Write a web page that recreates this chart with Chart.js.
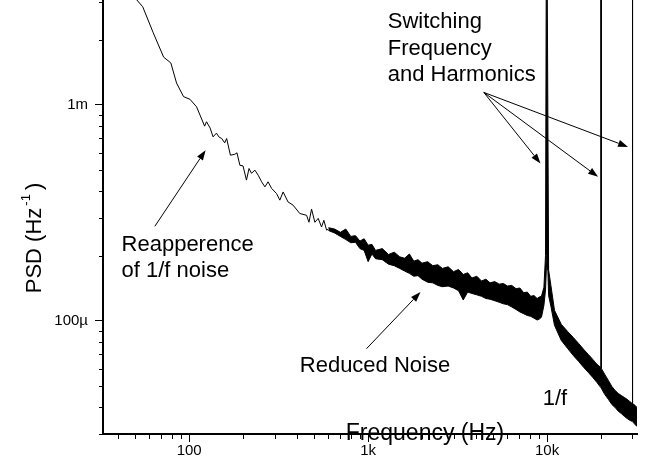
<!DOCTYPE html>
<html>
<head>
<meta charset="utf-8">
<script src="https://cdn.jsdelivr.net/npm/chart.js@4.4.1/dist/chart.umd.min.js"></script>
<style>
  html, body { margin: 0; padding: 0; background: #fff; }
  #wrap { width: 655px; height: 468px; position: relative; }
</style>
</head>
<body>
<div id="wrap"><canvas id="psdChart"></canvas></div>
<script>
// low frequency part of the spectrum (Hz, Hz^-1)
const freqLow = [49, 51, 55, 63, 72, 79, 85, 93, 101, 110, 122, 125, 131, 136, 142, 147, 152, 158, 162, 170,
  180, 185, 192, 200, 209, 216, 223, 233, 243, 254, 265, 276, 289, 308, 321, 335, 357, 381, 415, 453,
  467, 483, 504, 526, 549, 566, 586, 600]
const psdLow = [3.32e-3, 3.05e-3, 2.84e-3, 2.15e-3, 1.66e-3, 1.56e-3, 1.26e-3, 1.09e-3, 1.06e-3, 9.78e-4,
  7.96e-4, 8.34e-4, 7.80e-4, 7.10e-4, 7.39e-4, 7.08e-4, 6.98e-4, 6.66e-4, 6.98e-4, 5.84e-4,
  5.90e-4, 5.99e-4, 5.25e-4, 5.21e-4, 4.48e-4, 5.07e-4, 4.82e-4, 4.98e-4, 4.72e-4, 4.40e-4,
  4.17e-4, 4.40e-4, 4.10e-4, 3.88e-4, 3.62e-4, 3.95e-4, 3.55e-4, 3.43e-4, 3.14e-4, 3.08e-4,
  2.86e-4, 3.29e-4, 2.86e-4, 2.98e-4, 2.72e-4, 2.92e-4, 2.63e-4, 2.66e-4]

// noisy band above ~600 Hz: upper and lower envelope, with the switching peaks
const bandFreq = [600, 650, 700, 750, 800, 850, 900, 950, 1000, 1050, 1100, 1200, 1300, 1400, 1500,
  1600, 1700, 1800, 1900, 2000, 2150, 2300, 2450, 2600, 2800, 3000, 3200, 3400, 3600, 3800,
  4050, 4300, 4550, 4800, 5100, 5400, 5700, 6000, 6350, 6700, 7050, 7400, 7750, 8100, 8450,
  8800, 9050, 9300, 9600, 9800, 9900, 10000, 10100, 10200,
  10500, 11000, 12000, 13000, 14000, 15000, 16000, 17000, 18000, 19000, 19900, 19980, 20020, 20100, 21000,
  22000, 23000, 24000, 25000, 26000, 27000, 28000, 29000, 29900, 29980, 30020, 30100, 31000, 31800]
const bandUpper = [2.70e-4, 2.66e-4, 2.57e-4, 2.66e-4, 2.46e-4, 2.48e-4, 2.34e-4, 2.40e-4, 2.24e-4, 2.26e-4,
  2.12e-4, 2.16e-4, 2.03e-4, 2.08e-4, 1.98e-4, 1.95e-4, 2.04e-4, 1.89e-4, 1.92e-4, 1.85e-4,
  1.88e-4, 1.80e-4, 1.82e-4, 1.75e-4, 1.78e-4, 1.69e-4, 1.73e-4, 1.64e-4, 1.67e-4, 1.58e-4,
  1.61e-4, 1.53e-4, 1.56e-4, 1.50e-4, 1.52e-4, 1.48e-4, 1.49e-4, 1.45e-4, 1.46e-4, 1.41e-4,
  1.42e-4, 1.35e-4, 1.36e-4, 1.30e-4, 1.31e-4, 1.27e-4, 1.29e-4, 1.30e-4, 1.43e-4, 2.01e-4,
  5e-3, 5e-3, 5e-3, 1.72e-4,
  1.46e-4, 1.12e-4, 9.65e-5, 8.95e-5, 8.39e-5, 7.87e-5, 7.39e-5, 7.00e-5, 6.64e-5, 6.30e-5,
  6.10e-5, 5e-3, 5e-3, 6.03e-5, 5.66e-5, 5.31e-5, 4.98e-5, 4.77e-5, 4.62e-5, 4.52e-5,
  4.43e-5, 4.34e-5, 4.24e-5, 4.15e-5, 5e-3, 5e-3, 4.15e-5, 4.07e-5, 3.98e-5]
const bandLower = [2.62e-4, 2.55e-4, 2.46e-4, 2.38e-4, 2.30e-4, 2.31e-4, 2.16e-4, 2.12e-4, 1.88e-4, 2.04e-4,
  1.94e-4, 1.92e-4, 1.83e-4, 1.80e-4, 1.75e-4, 1.70e-4, 1.66e-4, 1.61e-4, 1.62e-4, 1.56e-4,
  1.51e-4, 1.50e-4, 1.46e-4, 1.44e-4, 1.45e-4, 1.42e-4, 1.38e-4, 1.25e-4, 1.36e-4, 1.34e-4,
  1.32e-4, 1.30e-4, 1.27e-4, 1.26e-4, 1.24e-4, 1.22e-4, 1.20e-4, 1.19e-4, 1.16e-4, 1.13e-4,
  1.10e-4, 1.08e-4, 1.06e-4, 1.05e-4, 1.03e-4, 1.01e-4, 1.02e-4, 1.04e-4, 1.18e-4, 1.39e-4,
  1.72e-4, 2.12e-4, 1.72e-4, 1.31e-4,
  1.17e-4, 9.54e-5, 8.13e-5, 7.47e-5, 6.93e-5, 6.50e-5, 6.10e-5, 5.78e-5, 5.48e-5, 5.19e-5,
  4.93e-5, 4.93e-5, 4.90e-5, 4.88e-5, 4.57e-5, 4.34e-5, 4.11e-5, 3.98e-5, 3.82e-5, 3.73e-5,
  3.62e-5, 3.54e-5, 3.47e-5, 3.43e-5, 3.43e-5, 3.43e-5, 3.43e-5, 3.32e-5, 3.25e-5]

const xTicks = [100, 1000, 10000]
const xTickLabels = ['100', '1k', '10k']
const yTicks = [1e-4, 1e-3]
const yTickLabels = ['100\u00b5', '1m']

// annotation texts, anchored in data units (Hz, Hz^-1)
const notes = [
  { lines: ['Switching', 'Frequency', 'and Harmonics'], f: 1288, p: 2.26e-3 },
  { lines: ['Reapperence', 'of 1/f noise'], f: 41.9, p: 2.11e-4 },
  { lines: ['Reduced Noise'], f: 415, p: 5.8e-5 },
  { lines: ['1/f'], f: 9460, p: 4.07e-5 }
]
// arrows: from [f, p] to [f, p]
const arrows = [
  [[64.3, 2.74e-4], [123.5, 6.16e-4]],
  [[979, 7.44e-5], [1962, 1.36e-4]],
  [[4430, 1.14e-3], [9186, 5.35e-4]],
  [[4430, 1.14e-3], [19270, 4.64e-4]],
  [[4430, 1.14e-3], [28350, 6.38e-4]]
]

const FONT = "Arial, 'Liberation Sans', sans-serif"

const toXY = (xs, ys) => xs.map((x, i) => ({ x: x, y: ys[i] }))

const minorTicks = (min, max) => {
  const out = []
  for (let d = Math.pow(10, Math.floor(Math.log10(min))); d < max; d *= 10) {
    for (let k = 2; k <= 9; k++) {
      const v = k * d
      if (v >= min && v <= max) out.push(v)
    }
  }
  return out
}

const decorPlugin = {
  id: 'decor',
  afterDatasetsDraw(chart) {
    const ctx = chart.ctx
    const xs = chart.scales.x
    const ys = chart.scales.y
    const area = chart.chartArea
    ctx.save()
    ctx.fillStyle = '#000'
    ctx.strokeStyle = '#000'

    // minor ticks, outside
    ctx.lineWidth = 1
    ctx.beginPath()
    minorTicks(xs.min, xs.max).forEach(v => {
      const px = Math.round(xs.getPixelForValue(v)) + 0.5
      ctx.moveTo(px, area.bottom)
      ctx.lineTo(px, area.bottom + 5)
    })
    minorTicks(ys.min, ys.max).forEach(v => {
      const py = Math.round(ys.getPixelForValue(v)) + 0.5
      ctx.moveTo(area.left, py)
      ctx.lineTo(area.left - 4, py)
    })
    ctx.stroke()

    // notes
    ctx.font = '22px ' + FONT
    ctx.textBaseline = 'alphabetic'
    ctx.textAlign = 'left'
    notes.forEach(n => {
      const x0 = xs.getPixelForValue(n.f)
      const y0 = ys.getPixelForValue(n.p)
      n.lines.forEach((t, i) => ctx.fillText(t, x0, y0 + i * 26.5))
    })

    // arrows
    arrows.forEach(a => {
      const x1 = xs.getPixelForValue(a[0][0]), y1 = ys.getPixelForValue(a[0][1])
      const x2 = xs.getPixelForValue(a[1][0]), y2 = ys.getPixelForValue(a[1][1])
      const ang = Math.atan2(y2 - y1, x2 - x1)
      const len = 10, hw = 3.5
      ctx.beginPath()
      ctx.moveTo(x1, y1)
      ctx.lineTo(x2 - Math.cos(ang) * len, y2 - Math.sin(ang) * len)
      ctx.stroke()
      ctx.beginPath()
      ctx.moveTo(x2, y2)
      ctx.lineTo(x2 - Math.cos(ang) * len - Math.sin(ang) * hw, y2 - Math.sin(ang) * len + Math.cos(ang) * hw)
      ctx.lineTo(x2 - Math.cos(ang) * len + Math.sin(ang) * hw, y2 - Math.sin(ang) * len - Math.cos(ang) * hw)
      ctx.closePath()
      ctx.fill()
    })

    // axis titles
    ctx.font = '23px ' + FONT
    ctx.textAlign = 'center'
    ctx.textBaseline = 'alphabetic'
    ctx.fillText('Frequency (Hz)', 425, 440)

    ctx.translate(41, 238)
    ctx.rotate(-Math.PI / 2)
    ctx.textAlign = 'left'
    const main = 'PSD (Hz'
    ctx.font = '22px ' + FONT
    const w1 = ctx.measureText(main).width
    ctx.font = '13px ' + FONT
    const w2 = ctx.measureText('-1').width
    ctx.font = '22px ' + FONT
    const w3 = ctx.measureText(')').width
    const start = -(w1 + w2 + w3 + 6) / 2
    ctx.fillText(main, start, 0)
    ctx.font = '13px ' + FONT
    ctx.fillText('-1', start + w1 + 2, -11)
    ctx.font = '22px ' + FONT
    ctx.fillText(')', start + w1 + w2 + 6, 0)
    ctx.restore()
  }
}

const lineStyle = {
  borderColor: '#000',
  borderWidth: 1,
  pointRadius: 0,
  tension: 0
}

const noPad = s => {
  s.paddingTop = 0
  s.paddingBottom = 0
  s.paddingLeft = 0
  s.paddingRight = 0
}

new Chart(document.getElementById('psdChart'), {
  type: 'line',
  data: {
    datasets: [
      Object.assign({ label: 'PSD', data: toXY(freqLow, psdLow), fill: false }, lineStyle),
      Object.assign({ label: 'band upper', data: toXY(bandFreq, bandUpper), fill: '+1', backgroundColor: '#000' }, lineStyle),
      Object.assign({ label: 'band lower', data: toXY(bandFreq, bandLower), fill: false }, lineStyle)
    ]
  },
  options: {
    responsive: true,
    maintainAspectRatio: false,
    animation: false,
    layout: { padding: { left: 0, right: 18, top: 0, bottom: 0 } },
    plugins: { legend: { display: false }, tooltip: { enabled: false } },
    scales: {
      x: {
        type: 'logarithmic',
        min: 33,
        max: 31800,
        afterBuildTicks: s => { s.ticks = xTicks.map(v => ({ value: v })) },
        afterFit: s => { s.height = 34; noPad(s) },
        ticks: {
          callback: (v, i) => xTickLabels[i],
          font: { family: FONT, size: 15 },
          color: '#000',
          padding: 0,
          maxRotation: 0,
          autoSkip: false
        },
        grid: { drawOnChartArea: false, drawTicks: true, tickLength: 8, tickColor: '#000', color: '#000' },
        border: { display: true, color: '#000', width: 2 }
      },
      y: {
        type: 'logarithmic',
        min: 3.0e-5,
        max: 3.05e-3,
        afterBuildTicks: s => { s.ticks = yTicks.map(v => ({ value: v })) },
        afterFit: s => { s.width = 103; noPad(s) },
        ticks: {
          callback: (v, i) => yTickLabels[i],
          font: { family: FONT, size: 15 },
          color: '#000',
          padding: 7,
          autoSkip: false
        },
        grid: { drawOnChartArea: false, drawTicks: true, tickLength: 8, tickColor: '#000', color: '#000' },
        border: { display: true, color: '#000', width: 2 }
      }
    }
  },
  plugins: [decorPlugin]
})
</script>
</body>
</html>
